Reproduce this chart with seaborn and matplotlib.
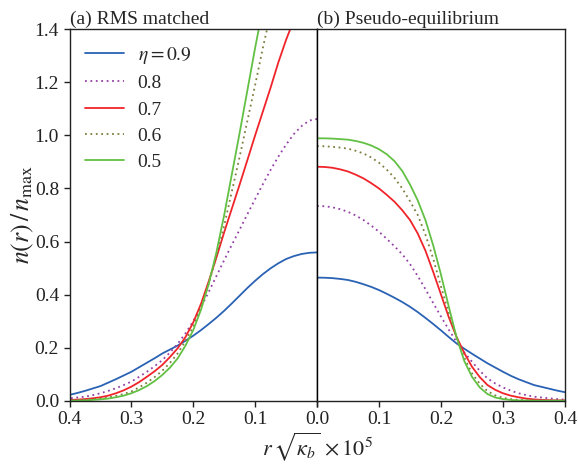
import numpy as np
import pandas as pd
import matplotlib
matplotlib.use("Agg")
import matplotlib.pyplot as plt
import seaborn as sns

# radial coordinate r*sqrt(kappa_b)*1e5
r = [0.0, 0.0125, 0.025, 0.0375, 0.05, 0.0625, 0.075, 0.0875,
     0.1, 0.1125, 0.125, 0.1375, 0.15, 0.1625, 0.175, 0.1875,
     0.2, 0.2125, 0.225, 0.2375, 0.25, 0.2625, 0.275, 0.2875,
     0.3, 0.3125, 0.325, 0.3375, 0.35, 0.3625, 0.375, 0.3875, 0.4]

labels = [r"$\eta = 0.9$", "0.8", "0.7", "0.6", "0.5"]

# (a) RMS matched
rms_09 = [0.559, 0.5575, 0.553, 0.545, 0.534, 0.518, 0.499, 0.477,
          0.452, 0.425, 0.396, 0.367, 0.339, 0.313, 0.289, 0.266,
          0.245, 0.226, 0.208, 0.193, 0.178, 0.160, 0.143, 0.126,
          0.109, 0.095, 0.081, 0.068, 0.055, 0.046, 0.037, 0.029, 0.022]
rms_08 = [1.062, 1.056, 1.035, 1.005, 0.965, 0.920, 0.870, 0.816,
          0.760, 0.703, 0.645, 0.588, 0.530, 0.470, 0.410, 0.352,
          0.300, 0.254, 0.215, 0.182, 0.153, 0.130, 0.109, 0.090,
          0.072, 0.059, 0.047, 0.037, 0.028, 0.021, 0.015, 0.012, 0.009]
rms_07 = [1.53, 1.52, 1.49, 1.435, 1.36, 1.275, 1.18, 1.09,
          1.00, 0.907, 0.815, 0.725, 0.635, 0.540, 0.450, 0.365,
          0.295, 0.240, 0.198, 0.165, 0.135, 0.111, 0.090, 0.070,
          0.053, 0.039, 0.028, 0.019, 0.013, 0.009, 0.006, 0.004, 0.003]
rms_06 = [1.83, 1.82, 1.79, 1.735, 1.66, 1.57, 1.46, 1.33,
          1.19, 1.055, 0.92, 0.79, 0.66, 0.545, 0.440, 0.352,
          0.279, 0.225, 0.179, 0.143, 0.113, 0.089, 0.068, 0.050,
          0.035, 0.025, 0.018, 0.012, 0.008, 0.006, 0.004, 0.002, 0.001]
rms_05 = [2.02, 2.01, 1.98, 1.925, 1.85, 1.745, 1.62, 1.48,
          1.33, 1.17, 1.01, 0.855, 0.70, 0.56, 0.440, 0.343,
          0.266, 0.208, 0.160, 0.125, 0.097, 0.074, 0.055, 0.040,
          0.028, 0.019, 0.013, 0.008, 0.005, 0.003, 0.001, 0.0005, 0.0]

# (b) Pseudo-equilibrium
peq_09 = [0.464, 0.4635, 0.462, 0.459, 0.455, 0.448, 0.439, 0.429,
          0.417, 0.403, 0.388, 0.372, 0.354, 0.334, 0.312, 0.289,
          0.265, 0.240, 0.216, 0.196, 0.177, 0.159, 0.141, 0.125,
          0.109, 0.094, 0.081, 0.070, 0.059, 0.052, 0.045, 0.038, 0.032]
peq_08 = [0.734, 0.733, 0.729, 0.722, 0.712, 0.698, 0.681, 0.660,
          0.637, 0.610, 0.582, 0.552, 0.515, 0.470, 0.420, 0.368,
          0.317, 0.268, 0.222, 0.182, 0.147, 0.113, 0.084, 0.065,
          0.050, 0.038, 0.028, 0.021, 0.015, 0.012, 0.009, 0.006, 0.004]
peq_07 = [0.882, 0.881, 0.878, 0.872, 0.864, 0.852, 0.838, 0.820,
          0.800, 0.776, 0.750, 0.718, 0.681, 0.630, 0.565, 0.485,
          0.400, 0.315, 0.241, 0.180, 0.128, 0.089, 0.059, 0.041,
          0.028, 0.019, 0.013, 0.008, 0.005, 0.003, 0.002, 0.001, 0.001]
peq_06 = [0.960, 0.959, 0.957, 0.954, 0.950, 0.942, 0.932, 0.917,
          0.897, 0.871, 0.840, 0.800, 0.752, 0.700, 0.625, 0.535,
          0.430, 0.330, 0.238, 0.163, 0.103, 0.064, 0.036, 0.020,
          0.011, 0.006, 0.003, 0.002, 0.001, 0.0, 0.0, 0.0, 0.0]
peq_05 = [0.989, 0.989, 0.988, 0.986, 0.984, 0.979, 0.972, 0.962,
          0.948, 0.929, 0.903, 0.866, 0.815, 0.755, 0.680, 0.585,
          0.475, 0.355, 0.240, 0.150, 0.090, 0.050, 0.025, 0.012,
          0.006, 0.003, 0.001, 0.0005, 0.0, 0.0, 0.0, 0.0, 0.0]

rms = [rms_09, rms_08, rms_07, rms_06, rms_05]
peq = [peq_09, peq_08, peq_07, peq_06, peq_05]

colors = ["#2a62b4", "#9440a6", "#f0242a", "#7d7d3c", "#62c043"]
styles = ["-", (0, (1, 2)), "-", (0, (1, 2)), "-"]

sns.set_theme(style="ticks")
plt.rcParams["font.family"] = ["Liberation Serif", "DejaVu Serif"]
plt.rcParams["mathtext.fontset"] = "stix"
plt.rcParams["font.size"] = 14
plt.rcParams["axes.edgecolor"] = "#222222"
plt.rcParams["xtick.color"] = "#222222"
plt.rcParams["ytick.color"] = "#222222"

fig = plt.figure(figsize=(5.78, 4.67), dpi=100)
ax1 = fig.add_axes([69.5 / 578, 1 - 400.7 / 467, (317 - 69.5) / 578, (400.7 - 29.3) / 467])
ax2 = fig.add_axes([317 / 578, 1 - 400.7 / 467, (565 - 317) / 578, (400.7 - 29.3) / 467])

for ax, series in ((ax1, rms), (ax2, peq)):
    for vals, c, ls, lab in zip(series, colors, styles, labels):
        df = pd.DataFrame({"r": r, "n": vals})
        sns.lineplot(data=df, x="r", y="n", ax=ax, color=c, linestyle=ls,
                     linewidth=1.3, label=lab if ax is ax1 else None)
    ax.set_ylim(0, 1.4)
    ax.set_xticks([0.0, 0.1, 0.2, 0.3, 0.4])
    ax.set_xlabel("")
    ax.set_ylabel("")
    ax.tick_params(direction="out", length=4, width=1, labelsize=14)
    for s in ax.spines.values():
        s.set_visible(True)
        s.set_linewidth(1.0)

ax1.set_xticklabels(["0.0", "0.1", "0.2", "0.3", "0.4"])
# shared 0.0 at the joint is drawn once (by the left panel)
ax2.set_xticklabels(["", "0.1", "0.2", "0.3", "0.4"])

ax1.set_xlim(0.4, 0.0)
ax2.set_xlim(0.0, 0.4)
ax1.set_yticks([0.0, 0.2, 0.4, 0.6, 0.8, 1.0, 1.2, 1.4])
ax1.set_yticklabels(["0.0", "0.2", "0.4", "0.6", "0.8", "1.0", "1.2", "1.4"])
ax2.set_yticks([])
ax1.spines["right"].set_color("black")
ax2.spines["left"].set_color("black")

ax1.set_title("(a) RMS matched", loc="left", fontsize=14, pad=4)
ax2.set_title("(b) Pseudo-equilibrium", loc="left", fontsize=14, pad=4)

ax1.set_ylabel(r"$n(r)\,/\,n_{\mathrm{max}}$", fontsize=18.5)
ax1.yaxis.set_label_coords(-0.135, 0.5)
fig.text(317 / 578, 0.008, r"$r\,\sqrt{\kappa_b}\,\times 10^5$", ha="center",
         va="bottom", fontsize=16)

leg = ax1.legend(loc="upper left", frameon=False, fontsize=14,
                 handlelength=2.0, handletextpad=0.7, labelspacing=0.45,
                 borderaxespad=0.4, bbox_to_anchor=(0.0, 1.0))

fig.savefig("out.png", dpi=100)
